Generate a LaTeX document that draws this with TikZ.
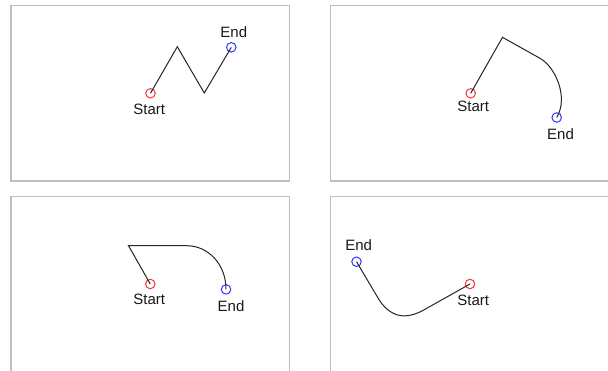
\documentclass[tikz,border=0pt]{standalone}
\usepackage{fontspec}
\setmainfont{Liberation Sans}
\begin{document}
\begin{tikzpicture}[x=1pt,y=-1pt,
  frame/.style={draw=black!25,line width=1.4pt},
  startpt/.style={circle,draw=red!80,line width=1pt,minimum size=9.5pt,inner sep=0pt},
  endpt/.style={circle,draw=blue!80,line width=1pt,minimum size=9.5pt,inner sep=0pt},
  lbl/.style={inner sep=0pt,text=black!90,font=\fontsize{15}{17}\selectfont},
  conn/.style={draw=black!85,line width=1pt,line join=miter}]
\useasboundingbox (0,0) rectangle (608,370);
\clip (0,0) rectangle (608,370);
\fill[white] (0,0) rectangle (608,370);
% frames
\draw[frame] (11,5.7) rectangle (289.5,181);
\draw[frame] (330.7,5.7) rectangle (620,181);
\draw[frame] (11,196.7) rectangle (289.5,380);
\draw[frame] (330.7,196.7) rectangle (620,380);
% panel 1
\node[startpt] (s1) at (150.5,93.3) {};
\node[endpt] (e1) at (231.3,47.3) {};
\node[lbl] (s1l) at (149.3,109.2) {Start};
\node[lbl] (e1l) at (233.8,32.2) {End};
\coordinate (p1a) at (177.3,46.7);
\coordinate (p1b) at (204.3,93.0);
\draw[conn] (s1.center) -- (p1a) -- (p1b) -- (e1.center);
% panel 2
\node[startpt] (s2) at (470.7,93.3) {};
\node[endpt] (e2) at (556.7,117.5) {};
\node[lbl] (s2l) at (473.3,106.2) {Start};
\node[lbl] (e2l) at (560.5,134.5) {End};
\coordinate (p2a) at (502.5,37.3);
\coordinate (p2b) at (540,58.3);
\draw[conn] (s2.center) -- (p2a) -- (p2b) .. controls (555,66.6) and (569,97) .. (e2.center);
% panel 3
\node[startpt] (s3) at (150.3,284) {};
\node[endpt] (e3) at (226,289.4) {};
\node[lbl] (s3l) at (149.3,299.5) {Start};
\node[lbl] (e3l) at (231,306.2) {End};
\coordinate (p3a) at (128.5,245.7);
\coordinate (p3b) at (186.7,245.7);
\draw[conn] (s3.center) -- (p3a) -- (p3b) .. controls (208,245.7) and (226,264) .. (e3.center);
% panel 4
\node[startpt] (s4) at (470,284) {};
\node[endpt] (e4) at (356.5,261.7) {};
\node[lbl] (s4l) at (473.3,300) {Start};
\node[lbl] (e4l) at (358.7,245.2) {End};
\coordinate (p4a) at (423.7,310);
\coordinate (p4b) at (377.9,297.8);
\draw[conn] (s4.center) -- (p4a) .. controls (404.5,320.7) and (389.2,316.7) .. (p4b) -- (e4.center);
\end{tikzpicture}
\end{document}
